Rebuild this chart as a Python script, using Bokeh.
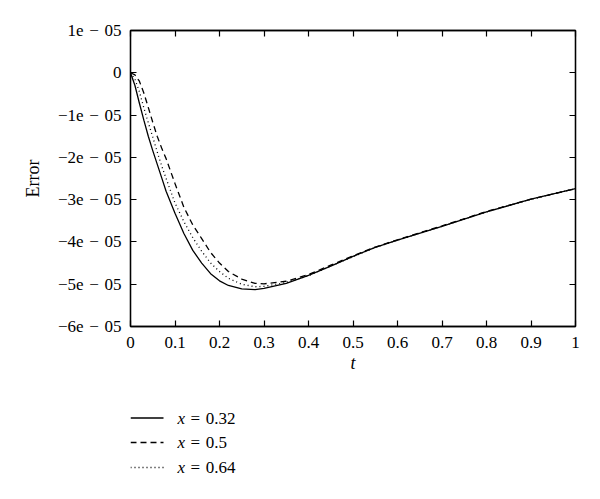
from bokeh.plotting import figure
from bokeh.layouts import column
from bokeh.models import (ColumnDataSource, Range1d, LinearAxis, FixedTicker,
                          CustomJSTickFormatter)
from bokeh.core.properties import value
from bokeh.embed import file_html
from bokeh.resources import INLINE

# ---- data (Error in units of 1e-5) ----
t = [0.0, 0.01, 0.02, 0.03, 0.04, 0.05, 0.06, 0.07, 0.08, 0.10, 0.12, 0.14,
     0.16, 0.18, 0.20, 0.22, 0.25, 0.28, 0.30, 0.35, 0.40, 0.45, 0.50, 0.55,
     0.60, 0.70, 0.80, 0.90, 1.00]
err_032 = [0.0, -0.30, -0.72, -1.12, -1.50, -1.84, -2.16, -2.48, -2.80, -3.32,
           -3.80, -4.20, -4.50, -4.75, -4.92, -5.03, -5.11, -5.13, -5.10, -4.98,
           -4.79, -4.57, -4.34, -4.13, -3.96, -3.63, -3.29, -2.99, -2.74]
err_05 = [0.0, -0.05, -0.20, -0.48, -0.82, -1.17, -1.50, -1.78, -2.03, -2.62,
          -3.18, -3.60, -3.92, -4.25, -4.50, -4.70, -4.88, -4.98, -4.99, -4.93,
          -4.77, -4.55, -4.33, -4.12, -3.95, -3.62, -3.28, -2.99, -2.74]
err_064 = [0.0, -0.15, -0.45, -0.83, -1.18, -1.52, -1.87, -2.20, -2.50, -3.08,
           -3.52, -3.90, -4.22, -4.50, -4.70, -4.86, -5.00, -5.06, -5.05, -4.96,
           -4.80, -4.57, -4.35, -4.13, -3.96, -3.63, -3.29, -2.99, -2.74]
scale = 1e-5
legend_var = ["x", "x", "x"]
legend_vals = ["=\u20040.32", "=\u20040.5", "=\u20040.64"]

x_ticks = [0, 0.1, 0.2, 0.3, 0.4, 0.5, 0.6, 0.7, 0.8, 0.9, 1.0]
x_tick_labels = ["0", "0.1", "0.2", "0.3", "0.4", "0.5", "0.6", "0.7", "0.8", "0.9", "1"]
y_ticks = [1e-5, 0.0, -1e-5, -2e-5, -3e-5, -4e-5, -5e-5, -6e-5]
y_tick_labels = ["1e\u2004\u2212\u200405", "0",
                 "\u22121e\u2004\u2212\u200405", "\u22122e\u2004\u2212\u200405",
                 "\u22123e\u2004\u2212\u200405", "\u22124e\u2004\u2212\u200405",
                 "\u22125e\u2004\u2212\u200405", "\u22126e\u2004\u2212\u200405"]

FONT = "Liberation Serif"
W = 584
BL, BR = 130, 9
FRAME_W = W - BL - BR

src = ColumnDataSource(dict(
    t=t,
    a=[v * scale for v in err_032],
    b=[v * scale for v in err_05],
    c=[v * scale for v in err_064],
))

p = figure(width=W, height=390, output_backend="svg", toolbar_location=None,
           x_range=Range1d(0, 1), y_range=Range1d(-6e-5, 1e-5),
           min_border_left=BL, min_border_right=BR, min_border_top=30,
           min_border_bottom=64, x_axis_label="t", y_axis_label="Error")
p.background_fill_color = "white"
p.border_fill_color = "white"
p.grid.visible = False
p.outline_line_color = "black"
p.outline_line_width = 1.3

dashes = ["solid", "6 4", "1 3"]
cols = ["a", "b", "c"]
for col, dsh in zip(cols, dashes):
    p.line("t", col, source=src, line_color="black", line_width=1.3, line_dash=dsh)

def make_fmt(tvals, tlabels):
    return CustomJSTickFormatter(args=dict(tvals=tvals, tlabels=tlabels), code="""
        let best = 0, bd = Infinity;
        for (let i = 0; i < tvals.length; i++) {
            const d = Math.abs(tvals[i] - tick);
            if (d < bd) { bd = d; best = i; }
        }
        return tlabels[best];
    """)

xa = p.xaxis[0]
ya = p.yaxis[0]
xa.ticker = FixedTicker(ticks=x_ticks)
ya.ticker = FixedTicker(ticks=y_ticks)
xa.formatter = make_fmt(x_ticks, x_tick_labels)
ya.formatter = make_fmt(y_ticks, y_tick_labels)

for ax in (xa, ya):
    ax.major_tick_in = 6
    ax.major_tick_out = 0
    ax.minor_tick_line_color = None
    ax.axis_line_width = 1.3
    ax.major_tick_line_width = 1.2
    ax.major_label_text_font = FONT
    ax.major_label_text_font_size = "17px"
    ax.major_label_text_color = "black"
    ax.axis_label_text_font = FONT
    ax.axis_label_text_font_size = "18px"
    ax.axis_label_text_font_style = "normal"
    ax.axis_label_text_color = "black"

xa.major_label_standoff = 10
xa.axis_label_standoff = 2
xa.axis_label_text_font_style = "italic"
ya.major_label_standoff = 9
ya.axis_label_standoff = 12

blank = CustomJSTickFormatter(code='return "";')
top = LinearAxis(ticker=FixedTicker(ticks=x_ticks), formatter=blank,
                 major_tick_in=6, major_tick_out=0, minor_tick_line_color=None,
                 axis_line_width=1.3, major_tick_line_width=1.2, major_label_standoff=0)
right = LinearAxis(ticker=FixedTicker(ticks=y_ticks), formatter=blank,
                   major_tick_in=6, major_tick_out=0, minor_tick_line_color=None,
                   axis_line_width=1.3, major_tick_line_width=1.2, major_label_standoff=0)
p.add_layout(top, "above")
p.add_layout(right, "right")

# legend panel below the chart; its frame lines up with the chart's frame,
# so coordinates are pixels measured from the frame's left edge
LH = 100
q = figure(width=W, height=LH, output_backend="svg", toolbar_location=None,
           x_range=Range1d(0, FRAME_W), y_range=Range1d(LH, 0),
           x_axis_type=None, y_axis_type=None,
           min_border_left=BL, min_border_right=BR, min_border_top=0, min_border_bottom=0)
q.grid.visible = False
q.outline_line_color = None
q.background_fill_color = "white"
q.border_fill_color = "white"

row_y = [27.5, 52, 77]
x_sample0, x_sample1, x_var, x_val = 0, 33, 47, 60
for yy, dsh in zip(row_y, dashes):
    q.line(x=[x_sample0, x_sample1], y=[yy, yy], line_color="black",
           line_width=1.3, line_dash=dsh)
q.text(x=[x_var] * 3, y=row_y, text=legend_var, text_font=value(FONT),
       text_font_size="17px", text_font_style="italic", text_color="black",
       text_baseline="middle", text_align="left")
q.text(x=[x_val] * 3, y=row_y, text=legend_vals, text_font=value(FONT),
       text_font_size="17px", text_color="black",
       text_baseline="middle", text_align="left")

layout = column(p, q, spacing=0)
open("out.html", "w").write(file_html(layout, INLINE))
